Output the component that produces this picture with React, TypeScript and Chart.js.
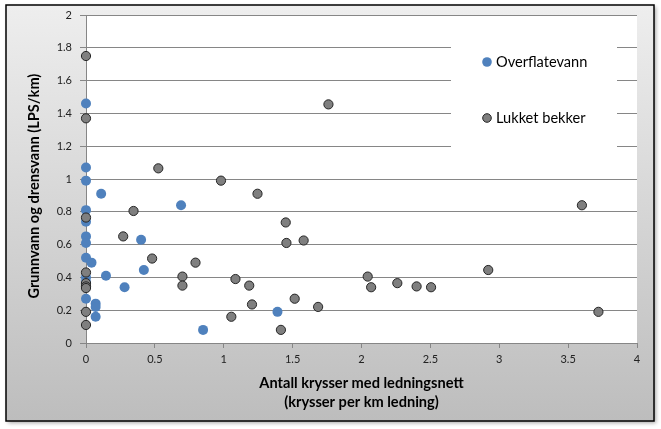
import React, { useEffect, useRef } from "react";
import { Chart, registerables } from "chart.js";

Chart.register(...registerables);

const seriesNames = ["Overflatevann", "Lukket bekker"];

const overflatevannX = [0, 0, 0, 0.11, 0, 0, 0, 0, 0, 0.04, 0, 0, 0, 0.07, 0.07, 0.07, 0.145, 0.28, 0.4, 0.42, 0.69, 0.85, 1.39];
const overflatevannY = [1.46, 1.07, 0.99, 0.91, 0.81, 0.74, 0.65, 0.61, 0.52, 0.49, 0.4, 0.37, 0.27, 0.24, 0.22, 0.16, 0.41, 0.34, 0.63, 0.445, 0.84, 0.08, 0.19];

const lukketX = [0, 0, 1.76, 0.98, 1.245, 0.525, 0.345, 0, 0.27, 0.48, 0.795, 0.7, 0.7, 0, 0, 0, 0, 0, 0, 1.45, 1.455, 1.58, 1.085, 1.185, 1.205, 1.055, 1.415, 1.515, 1.685, 2.045, 2.07, 2.26, 2.4, 2.505, 2.92, 3.72, 3.6];
const lukketY = [1.75, 1.37, 1.455, 0.99, 0.91, 1.065, 0.805, 0.765, 0.65, 0.515, 0.49, 0.405, 0.35, 0.43, 0.365, 0.345, 0.335, 0.19, 0.11, 0.735, 0.61, 0.625, 0.39, 0.35, 0.235, 0.16, 0.08, 0.27, 0.22, 0.405, 0.34, 0.365, 0.345, 0.34, 0.445, 0.19, 0.84];

const xTicks = [0, 0.5, 1, 1.5, 2, 2.5, 3, 3.5, 4];
const yTicks = [0, 0.2, 0.4, 0.6, 0.8, 1, 1.2, 1.4, 1.6, 1.8, 2];

const xAxisTitle = ["Antall krysser med ledningsnett", "(krysser per km ledning)"];
const yAxisTitle = "Grunnvann og drensvann (LPS/km)";

const FONT = "Lato, 'Open Sans', sans-serif";
const GRID = "#868686";

const backgroundPlugin = {
  id: "excelBackground",
  beforeDraw(chart: any) {
    const { ctx, width, height, chartArea } = chart;
    ctx.save();
    ctx.fillStyle = "#ffffff";
    ctx.fillRect(0, 0, width, height);
    ctx.shadowColor = "rgba(0,0,0,0.35)";
    ctx.shadowBlur = 4;
    ctx.shadowOffsetX = 2;
    ctx.shadowOffsetY = 2;
    const g = ctx.createLinearGradient(0, 5, 0, 421);
    g.addColorStop(0, "#eeeeee");
    g.addColorStop(1, "#bdbdbd");
    ctx.fillStyle = g;
    ctx.fillRect(6, 5, 648, 416);
    ctx.shadowColor = "transparent";
    ctx.lineWidth = 1.5;
    ctx.strokeStyle = "#000000";
    ctx.strokeRect(6, 5, 648, 416);
    ctx.fillStyle = "#ffffff";
    ctx.fillRect(chartArea.left, chartArea.top, chartArea.right - chartArea.left, chartArea.bottom - chartArea.top);
    ctx.restore();
  },
};

const legendPlugin = {
  id: "insetLegend",
  beforeDatasetsDraw(chart: any) {
    const { ctx } = chart;
    ctx.save();
    ctx.fillStyle = "#ffffff";
    ctx.fillRect(451, 30, 166, 132);
    chart.data.datasets.forEach((ds: any, i: number) => {
      const y = 62 + i * 56;
      ctx.beginPath();
      ctx.arc(487, y, ds.borderWidth ? 4.3 : 4.8, 0, Math.PI * 2);
      ctx.fillStyle = ds.backgroundColor;
      ctx.fill();
      if (ds.borderWidth) {
        ctx.lineWidth = 1;
        ctx.strokeStyle = ds.borderColor;
        ctx.stroke();
      }
      ctx.fillStyle = "#000000";
      ctx.font = `14.6px ${FONT}`;
      ctx.textBaseline = "middle";
      ctx.textAlign = "left";
      ctx.fillText(ds.label, 496, y);
    });
    ctx.restore();
  },
};

export default function App() {
  const ref = useRef<HTMLCanvasElement>(null);
  useEffect(() => {
    document.body.style.margin = "0";
    const chart = new Chart(ref.current as HTMLCanvasElement, {
      type: "scatter",
      data: {
        datasets: [
          {
            label: seriesNames[0],
            data: overflatevannX.map((x, i) => ({ x, y: overflatevannY[i] })),
            backgroundColor: "#4f81bd",
            borderColor: "#4f81bd",
            borderWidth: 0,
            pointRadius: 5,
            clip: false,
            order: 2,
          },
          {
            label: seriesNames[1],
            data: lukketX.map((x, i) => ({ x, y: lukketY[i] })),
            backgroundColor: "#7f7f7f",
            borderColor: "#262626",
            borderWidth: 1,
            pointRadius: 4.6,
            clip: false,
            order: 1,
          },
        ],
      },
      options: {
        responsive: false,
        animation: false,
        layout: { padding: { left: 0, top: 15, right: 24, bottom: 0 } },
        plugins: { legend: { display: false }, tooltip: { enabled: false } },
        scales: {
          x: {
            type: "linear",
            position: "bottom",
            min: 0,
            max: 4,
            afterFit: (s: any) => {
              s.height = 86;
            },
            afterBuildTicks: (s: any) => {
              s.ticks = xTicks.map((v) => ({ value: v }));
            },
            grid: { drawOnChartArea: false, drawTicks: true, tickLength: 5, color: GRID },
            border: { color: GRID, width: 1 },
            ticks: {
              font: { family: FONT, size: 11 },
              color: "#222222",
              padding: 5,
              maxRotation: 0,
              callback: (v: any) => String(v),
            },
            title: {
              display: true,
              text: xAxisTitle,
              font: { family: FONT, size: 14.6, weight: "bold", lineHeight: "19px" },
              color: "#000000",
              padding: { top: 0, bottom: 17.5 },
            },
          },
          y: {
            type: "linear",
            min: 0,
            max: 2,
            afterFit: (s: any) => {
              s.width = 86;
            },
            afterBuildTicks: (s: any) => {
              s.ticks = yTicks.map((v) => ({ value: v }));
            },
            grid: { drawOnChartArea: true, drawTicks: true, tickLength: 6, color: GRID },
            border: { color: GRID, width: 1 },
            ticks: {
              font: { family: FONT, size: 11 },
              color: "#222222",
              padding: 8,
              callback: (v: any) => String(+Number(v).toFixed(1)),
            },
            title: {
              display: true,
              text: yAxisTitle + "    ",
              font: { family: FONT, size: 14.6, weight: "bold", lineHeight: "16px" },
              color: "#000000",
              padding: { top: 26, bottom: 0 },
            },
          },
        },
      },
      plugins: [backgroundPlugin, legendPlugin],
    });
    return () => chart.destroy();
  }, []);
  return (
    <div style={{ width: 661, height: 429 }}>
      <canvas ref={ref} width={661} height={429} style={{ display: "block" }} />
    </div>
  );
}
